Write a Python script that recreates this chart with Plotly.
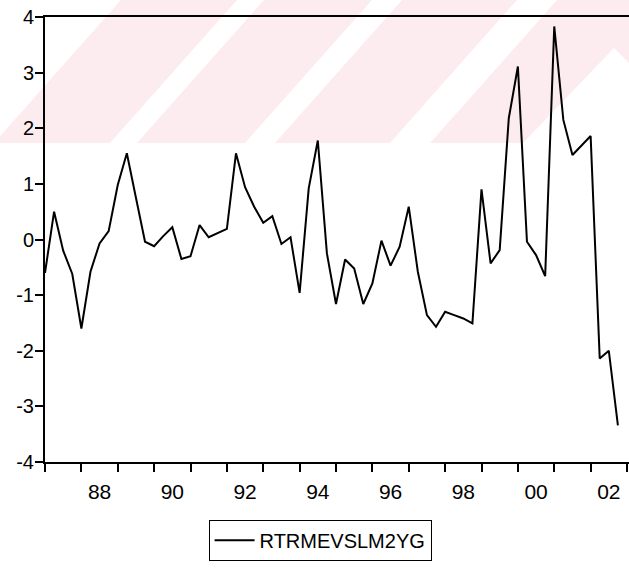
import plotly.graph_objects as go

# ---- data (quarterly, 1987Q1 - 2002Q4) ----
series_name = "RTRMEVSLM2YG"
start_year = 1987
values = [
    -0.60, 0.50, -0.20, -0.62, -1.60, -0.58, -0.07, 0.15,
    0.98, 1.55, 0.75, -0.04, -0.12, 0.06, 0.22, -0.35,
    -0.30, 0.26, 0.04, 0.12, 0.19, 1.55, 0.94, 0.59,
    0.30, 0.42, -0.08, 0.04, -0.96, 0.92, 1.78, -0.25,
    -1.16, -0.36, -0.52, -1.16, -0.79, -0.02, -0.47, -0.13,
    0.59, -0.58, -1.36, -1.57, -1.30, -1.36, -1.42, -1.51,
    0.90, -0.43, -0.19, 2.18, 3.11, -0.04, -0.28, -0.66,
    3.83, 2.15, 1.52, 1.69, 1.86, -2.14, -2.00, -3.34,
]
year_ticks = list(range(1987, 2004))
label_years = [1988, 1990, 1992, 1994, 1996, 1998, 2000, 2002]
label_text = ["88", "90", "92", "94", "96", "98", "00", "02"]
y_ticks = [-4, -3, -2, -1, 0, 1, 2, 3, 4]
y_tick_text = ["-4", "-3", "-2", "-1", "0", "1", "2", "3", "4"]

x = [start_year + i / 4 for i in range(len(values))]

FONT = "Liberation Sans, Arial, sans-serif"
W, H = 629, 568
L, R, T, B = 45, 0, 17, 106
PW, PH = W - L - R, H - T - B


def px2paper(px, py):
    return ((px - L) / PW, (H - B - py) / PH)


def poly(points):
    pts = [px2paper(a, b) for a, b in points]
    return "M " + " L ".join(f"{a:.4f},{b:.4f}" for a, b in pts) + " Z"


fig = go.Figure()
fig.add_trace(go.Scatter(
    x=x, y=values, mode="lines", name=series_name,
    line=dict(color="black", width=2),
))

# faint diagonal watermark bands (background of scanned original)
pink = "#fdecef"
bands = [
    [(-6, 143), (121, 0), (237, 0), (110, 143)],
    [(137, 143), (264, 0), (372, 0), (245, 143)],
    [(275, 143), (402, 0), (517, 0), (390, 143)],
    [(430, 143), (557, 0), (629, 0), (629, 63), (614, 48), (523, 143)],
]
shapes = []
for b in bands:
    shapes.append(dict(type="path", xref="paper", yref="paper", path=poly(b),
                       fillcolor=pink, line=dict(width=0), layer="below"))

fig.update_layout(
    width=W, height=H,
    margin=dict(l=L, r=R, t=T, b=B),
    paper_bgcolor="white", plot_bgcolor="rgba(0,0,0,0)",
    font=dict(family=FONT, size=18, color="black"),
    shapes=shapes,
    showlegend=True,
    legend=dict(
        orientation="h", x=0.471, xanchor="center", y=-0.13, yanchor="top",
        bordercolor="black", borderwidth=1, bgcolor="white",
        font=dict(family=FONT, size=20, color="black"),
        itemwidth=40,
    ),
    xaxis=dict(
        range=[start_year, start_year + PW / 36.375],
        tickmode="array", tickvals=[y + 0.5 for y in label_years], ticktext=label_text,
        ticks="", showgrid=False, zeroline=False, ticklabelstandoff=10,
        showline=True, linecolor="black", linewidth=2, mirror=True,
        minor=dict(tickmode="array", tickvals=year_ticks, ticks="outside",
                   ticklen=8, tickwidth=2, tickcolor="black", showgrid=False),
        tickfont=dict(size=21),
    ),
    yaxis=dict(
        range=[-4, 4], tickmode="array", tickvals=y_ticks, ticktext=y_tick_text,
        ticks="outside", ticklen=8, tickwidth=2, tickcolor="black",
        ticklabelstandoff=-3,
        showgrid=False, zeroline=False,
        showline=True, linecolor="black", linewidth=2,
        tickfont=dict(size=20),
    ),
)

fig.write_html("out.html")
